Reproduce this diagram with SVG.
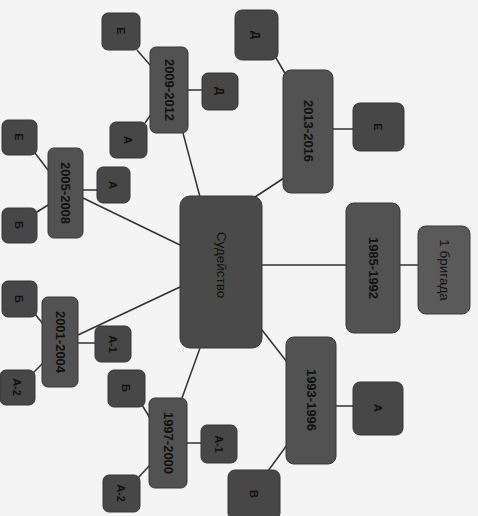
<svg xmlns="http://www.w3.org/2000/svg" width="478" height="516" viewBox="0 0 478 516">
<defs>
<style>
.bg{fill:#f4f4f4}
.main{fill:#4a4a4a;stroke:#363636;stroke-width:1}
.yr{fill:#525252;stroke:#363636;stroke-width:1}
.sm{fill:#474747;stroke:#363636;stroke-width:1}
.lb{fill:#5a5a5a;stroke:#3a3a3a;stroke-width:1}
.ln{stroke:#333333;stroke-width:1.5;fill:none}
text{font-family:"Liberation Sans",Arial,sans-serif;fill:#111111;text-anchor:middle;dominant-baseline:central}
.t1{font-size:13.5px}
.ty{font-size:13px;font-weight:bold}
.ts{font-size:11px;font-weight:bold}
</style>
</defs>
<rect class="bg" x="0" y="0" width="478" height="516"/>
<g id="connectors">
<line class="ln" x1="255" y1="197" x2="284" y2="178"/>
<line class="ln" x1="276" y1="58" x2="286" y2="75"/>
<line class="ln" x1="333" y1="129" x2="353" y2="129"/>
<line class="ln" x1="262" y1="265" x2="346" y2="265"/>
<line class="ln" x1="400" y1="265" x2="418" y2="265"/>
<line class="ln" x1="262" y1="330" x2="287" y2="362"/>
<line class="ln" x1="336" y1="406" x2="353" y2="406"/>
<line class="ln" x1="287" y1="445" x2="268" y2="471"/>
<line class="ln" x1="200" y1="348" x2="182" y2="398"/>
<line class="ln" x1="187" y1="443" x2="201" y2="443"/>
<line class="ln" x1="142" y1="405" x2="150" y2="418"/>
<line class="ln" x1="138" y1="478" x2="150" y2="465"/>
<line class="ln" x1="180" y1="287" x2="78" y2="335"/>
<line class="ln" x1="78" y1="343" x2="95" y2="343"/>
<line class="ln" x1="35" y1="314" x2="43" y2="324"/>
<line class="ln" x1="33" y1="373" x2="43" y2="363"/>
<line class="ln" x1="180" y1="245" x2="83" y2="198"/>
<line class="ln" x1="83" y1="190" x2="97" y2="190"/>
<line class="ln" x1="35" y1="153" x2="48" y2="170"/>
<line class="ln" x1="37" y1="212" x2="48" y2="205"/>
<line class="ln" x1="200" y1="197" x2="183" y2="133"/>
<line class="ln" x1="188" y1="90" x2="202" y2="90"/>
<line class="ln" x1="145" y1="123" x2="152" y2="113"/>
<line class="ln" x1="137" y1="50" x2="150" y2="65"/>
</g>
<g id="center">
<rect class="main" x="180" y="196" width="82" height="152" rx="10"/>
<text class="t1" transform="rotate(90 221 265)" x="221" y="265">Судейство</text>
</g>
<g id="n2013">
<rect class="yr" x="283" y="70" width="50" height="123" rx="8"/>
<text class="ty" transform="rotate(90 308 131)" x="308" y="131">2013-2016</text>
</g>
<g id="n2013d">
<rect class="sm" x="235" y="10" width="43" height="50" rx="7"/>
<text class="ts" transform="rotate(90 256 35)" x="256" y="35">Д</text>
</g>
<g id="n2013e">
<rect class="sm" x="353" y="103" width="51" height="48" rx="7"/>
<text class="ts" transform="rotate(90 378 127)" x="378" y="127">Е</text>
</g>
<g id="n1985">
<rect class="yr" x="346" y="203" width="54" height="130" rx="8"/>
<text class="ty" transform="rotate(90 373 268)" x="373" y="268">1985-1992</text>
</g>
<g id="n1brig">
<rect class="lb" x="418" y="226" width="52" height="88" rx="8"/>
<text class="t1" transform="rotate(90 444 270)" x="444" y="270">1 бригада</text>
</g>
<g id="n1993">
<rect class="yr" x="286" y="337" width="50" height="127" rx="8"/>
<text class="ty" transform="rotate(90 311 400)" x="311" y="400">1993-1996</text>
</g>
<g id="n1993a">
<rect class="sm" x="353" y="382" width="50" height="53" rx="7"/>
<text class="ts" transform="rotate(90 378 408)" x="378" y="408">А</text>
</g>
<g id="n1993v">
<rect class="sm" x="228" y="470" width="52" height="50" rx="7"/>
<text class="ts" transform="rotate(90 254 494)" x="254" y="494">В</text>
</g>
<g id="n1997">
<rect class="yr" x="149" y="398" width="38" height="90" rx="6"/>
<text class="ty" transform="rotate(90 168 443)" x="168" y="443">1997-2000</text>
</g>
<g id="n1997a1">
<rect class="sm" x="201" y="425" width="36" height="38" rx="6"/>
<text class="ts" transform="rotate(90 219 444)" x="219" y="444">А-1</text>
</g>
<g id="n1997b">
<rect class="sm" x="108" y="370" width="37" height="37" rx="6"/>
<text class="ts" transform="rotate(90 126 388)" x="126" y="388">Б</text>
</g>
<g id="n1997a2">
<rect class="sm" x="103" y="475" width="37" height="37" rx="6"/>
<text class="ts" transform="rotate(90 121 493)" x="121" y="493">А-2</text>
</g>
<g id="n2001">
<rect class="yr" x="42" y="297" width="36" height="90" rx="6"/>
<text class="ty" transform="rotate(90 60 342)" x="60" y="342">2001-2004</text>
</g>
<g id="n2001b">
<rect class="sm" x="2" y="281" width="35" height="36" rx="6"/>
<text class="ts" transform="rotate(90 19 299)" x="19" y="299">Б</text>
</g>
<g id="n2001a2">
<rect class="sm" x="0" y="370" width="35" height="35" rx="6"/>
<text class="ts" transform="rotate(90 17 387)" x="17" y="387">А-2</text>
</g>
<g id="n2001a1">
<rect class="sm" x="95" y="326" width="36" height="36" rx="6"/>
<text class="ts" transform="rotate(90 113 344)" x="113" y="344">А-1</text>
</g>
<g id="n2005">
<rect class="yr" x="48" y="148" width="35" height="90" rx="6"/>
<text class="ty" transform="rotate(90 65 193)" x="65" y="193">2005-2008</text>
</g>
<g id="n2005e">
<rect class="sm" x="2" y="120" width="35" height="35" rx="6"/>
<text class="ts" transform="rotate(90 19 137)" x="19" y="137">Е</text>
</g>
<g id="n2005b">
<rect class="sm" x="2" y="208" width="35" height="35" rx="6"/>
<text class="ts" transform="rotate(90 19 225)" x="19" y="225">Б</text>
</g>
<g id="n2005a">
<rect class="sm" x="97" y="167" width="33" height="36" rx="6"/>
<text class="ts" transform="rotate(90 113 185)" x="113" y="185">А</text>
</g>
<g id="n2009">
<rect class="yr" x="150" y="47" width="38" height="86" rx="6"/>
<text class="ty" transform="rotate(90 169 90)" x="169" y="90">2009-2012</text>
</g>
<g id="n2009e">
<rect class="sm" x="102" y="13" width="38" height="37" rx="6"/>
<text class="ts" transform="rotate(90 121 31)" x="121" y="31">Е</text>
</g>
<g id="n2009d">
<rect class="sm" x="202" y="73" width="36" height="37" rx="6"/>
<text class="ts" transform="rotate(90 220 91)" x="220" y="91">Д</text>
</g>
<g id="n2009a">
<rect class="sm" x="110" y="122" width="37" height="36" rx="6"/>
<text class="ts" transform="rotate(90 128 140)" x="128" y="140">А</text>
</g>
</svg>
